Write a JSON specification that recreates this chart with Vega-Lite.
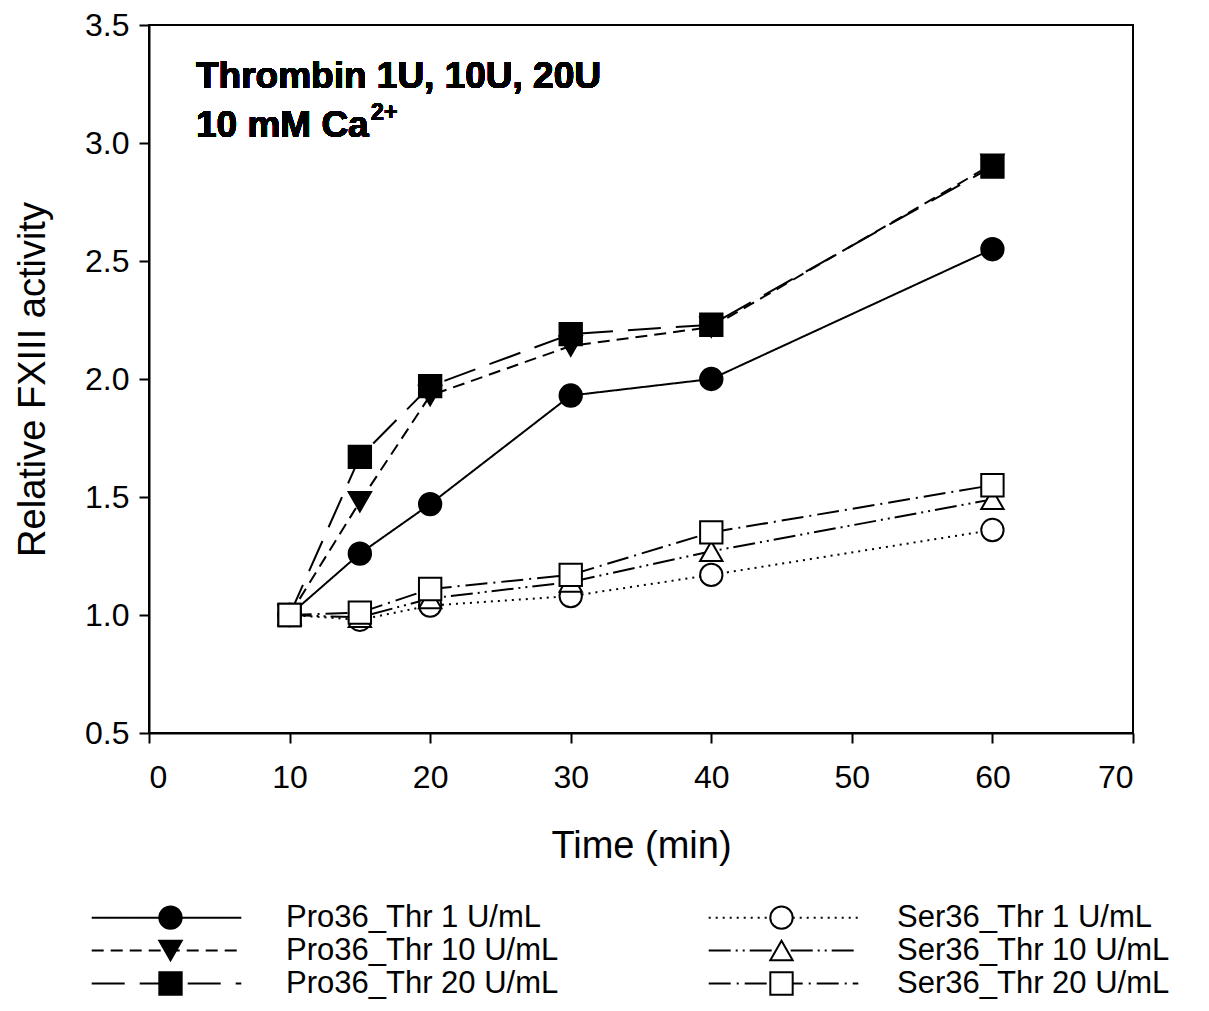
{
  "$schema": "https://vega.github.io/schema/vega-lite/v6.json",
  "width": 984,
  "height": 708,
  "autosize": {"type": "none"},
  "padding": {"left": 149, "top": 25, "right": 76, "bottom": 278},
  "background": "white",
  "config": {
    "font": "Liberation Sans",
    "view": {"stroke": "black", "strokeWidth": 2},
    "axis": {
      "domainColor": "black", "domainWidth": 2, "tickColor": "black", "tickWidth": 2, "tickSize": 10,
      "labelColor": "black", "titleColor": "black", "labelFont": "Liberation Sans", "titleFont": "Liberation Sans",
      "labelFontSize": 32, "titleFontSize": 38, "titleFontWeight": "normal", "grid": false
    }
  },
  "data": {
    "values": [
      {"series": "Pro36_Thr 1 U/mL", "time": 10, "activity": 1.0},
      {"series": "Pro36_Thr 1 U/mL", "time": 15, "activity": 1.26},
      {"series": "Pro36_Thr 1 U/mL", "time": 20, "activity": 1.47},
      {"series": "Pro36_Thr 1 U/mL", "time": 30, "activity": 1.93},
      {"series": "Pro36_Thr 1 U/mL", "time": 40, "activity": 2.0},
      {"series": "Pro36_Thr 1 U/mL", "time": 60, "activity": 2.55},
      {"series": "Pro36_Thr 10 U/mL", "time": 10, "activity": 1.0},
      {"series": "Pro36_Thr 10 U/mL", "time": 15, "activity": 1.48},
      {"series": "Pro36_Thr 10 U/mL", "time": 20, "activity": 1.93},
      {"series": "Pro36_Thr 10 U/mL", "time": 30, "activity": 2.14},
      {"series": "Pro36_Thr 10 U/mL", "time": 40, "activity": 2.22},
      {"series": "Pro36_Thr 10 U/mL", "time": 60, "activity": 2.91},
      {"series": "Pro36_Thr 20 U/mL", "time": 10, "activity": 1.0},
      {"series": "Pro36_Thr 20 U/mL", "time": 15, "activity": 1.67},
      {"series": "Pro36_Thr 20 U/mL", "time": 20, "activity": 1.97},
      {"series": "Pro36_Thr 20 U/mL", "time": 30, "activity": 2.19},
      {"series": "Pro36_Thr 20 U/mL", "time": 40, "activity": 2.23},
      {"series": "Pro36_Thr 20 U/mL", "time": 60, "activity": 2.9},
      {"series": "Ser36_Thr 1 U/mL", "time": 10, "activity": 1.0},
      {"series": "Ser36_Thr 1 U/mL", "time": 15, "activity": 0.98},
      {"series": "Ser36_Thr 1 U/mL", "time": 20, "activity": 1.04},
      {"series": "Ser36_Thr 1 U/mL", "time": 30, "activity": 1.08},
      {"series": "Ser36_Thr 1 U/mL", "time": 40, "activity": 1.17},
      {"series": "Ser36_Thr 1 U/mL", "time": 60, "activity": 1.36},
      {"series": "Ser36_Thr 10 U/mL", "time": 10, "activity": 1.0},
      {"series": "Ser36_Thr 10 U/mL", "time": 15, "activity": 0.99},
      {"series": "Ser36_Thr 10 U/mL", "time": 20, "activity": 1.07},
      {"series": "Ser36_Thr 10 U/mL", "time": 30, "activity": 1.14},
      {"series": "Ser36_Thr 10 U/mL", "time": 40, "activity": 1.27},
      {"series": "Ser36_Thr 10 U/mL", "time": 60, "activity": 1.49},
      {"series": "Ser36_Thr 20 U/mL", "time": 10, "activity": 1.0},
      {"series": "Ser36_Thr 20 U/mL", "time": 15, "activity": 1.01},
      {"series": "Ser36_Thr 20 U/mL", "time": 20, "activity": 1.11},
      {"series": "Ser36_Thr 20 U/mL", "time": 30, "activity": 1.17},
      {"series": "Ser36_Thr 20 U/mL", "time": 40, "activity": 1.35},
      {"series": "Ser36_Thr 20 U/mL", "time": 60, "activity": 1.55}
    ]
  },
  "encoding": {
    "x": {
      "field": "time", "type": "quantitative",
      "scale": {"domain": [0, 70], "nice": false},
      "axis": {"values": [0, 10, 20, 30, 40, 50, 60, 70], "title": "Time (min)", "labelPadding": 19, "titlePadding": 34}
    },
    "y": {
      "field": "activity", "type": "quantitative",
      "scale": {"domain": [0.5, 3.5], "nice": false, "zero": false},
      "axis": {"values": [0.5, 1.0, 1.5, 2.0, 2.5, 3.0, 3.5], "format": ".1f", "title": "Relative FXIII activity", "labelPadding": 10, "titlePadding": 32}
    }
  },
  "layer": [
    {
      "mark": {"type": "line", "color": "black", "strokeWidth": 2},
      "encoding": {
        "strokeDash": {
          "field": "series", "type": "nominal",
          "scale": {
            "domain": ["Pro36_Thr 1 U/mL", "Pro36_Thr 10 U/mL", "Pro36_Thr 20 U/mL", "Ser36_Thr 1 U/mL", "Ser36_Thr 10 U/mL", "Ser36_Thr 20 U/mL"],
            "range": [[1, 0], [12, 7], [33, 15], [2, 5], [22, 5, 2, 5, 2, 5], [22, 6, 2, 6]]
          },
          "legend": {
            "orient": "none", "legendX": 2, "legendY": 877, "columns": 2, "columnPadding": 458, "rowPadding": 1,
            "title": null, "symbolType": "M-6.8,0H6.8", "symbolSize": 484, "symbolStrokeWidth": 2, "symbolStrokeColor": "black",
            "symbolFillColor": "transparent",
            "labelExpr": "' '", "labelFontSize": 31, "labelOffset": 0
          }
        }
      }
    },
    {
      "mark": {"type": "point", "filled": true, "opacity": 1, "stroke": "black", "strokeWidth": 2, "size": 500},
      "encoding": {
        "fill": {
          "field": "series", "type": "nominal",
          "scale": {"range": ["black", "black", "black", "white", "white", "white"]},
          "legend": {
            "orient": "none", "legendX": 6, "legendY": 877, "columns": 2, "columnPadding": 207, "rowPadding": 1,
            "title": null, "labelFontSize": 31, "labelFont": "Liberation Sans", "labelColor": "black", "labelOffset": 100, "labelLimit": 500,
            "symbolSize": 500, "symbolStrokeWidth": 2, "symbolStrokeColor": "black", "symbolOpacity": 1,
            "encode": {"symbols": {"update": {"stroke": {"value": "black"}, "strokeWidth": {"value": 2}}}}
          }
        },
        "shape": {
          "field": "series", "type": "nominal",
          "scale": {"range": ["circle", "triangle-down", "square", "circle", "triangle-up", "square"]},
          "legend": {
            "orient": "none", "legendX": 6, "legendY": 877, "columns": 2, "columnPadding": 207, "rowPadding": 1,
            "title": null, "labelFontSize": 31, "labelFont": "Liberation Sans", "labelColor": "black", "labelOffset": 100, "labelLimit": 500,
            "symbolSize": 500, "symbolStrokeWidth": 2, "symbolStrokeColor": "black", "symbolOpacity": 1,
            "encode": {"symbols": {"update": {"stroke": {"value": "black"}, "strokeWidth": {"value": 2}}}}
          }
        }
      }
    },
    {
      "mark": {"type": "text", "text": "Thrombin 1U, 10U, 20U", "align": "left", "baseline": "alphabetic", "fontSize": 37, "fontWeight": "bold", "font": "Liberation Sans", "color": "black"},
      "encoding": {"x": {"datum": 3.34}, "y": {"datum": 3.233}}
    },
    {
      "mark": {"type": "text", "text": "10 mM Ca", "align": "left", "baseline": "alphabetic", "fontSize": 37, "fontWeight": "bold", "font": "Liberation Sans", "color": "black"},
      "encoding": {"x": {"datum": 3.34}, "y": {"datum": 3.027}}
    },
    {
      "mark": {"type": "text", "text": "2+", "align": "left", "baseline": "alphabetic", "fontSize": 23, "fontWeight": "bold", "font": "Liberation Sans", "color": "black"},
      "encoding": {"x": {"datum": 15.8}, "y": {"datum": 3.0975}}
    }
  ]
}
